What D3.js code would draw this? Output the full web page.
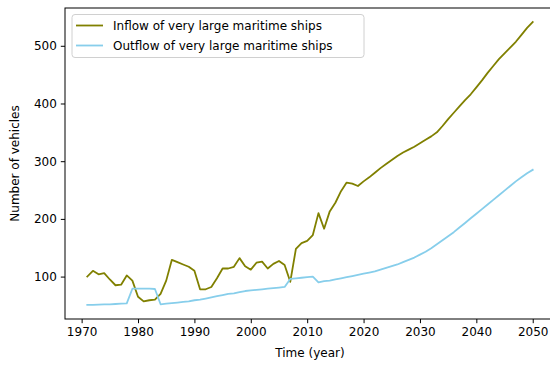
<!DOCTYPE html>
<html>
<head>
<meta charset="utf-8">
<script src="https://cdn.jsdelivr.net/npm/d3@7"></script>
<style>
  html, body { margin: 0; padding: 0; background: #fff; }
  svg { display: block; font-family: "DejaVu Sans", sans-serif; }
</style>
</head>
<body>
<div id="chart"></div>
<script>
const years = d3.range(1971, 2051);
const inflow = [
  100, 110, 104, 106, 95, 85, 86, 102, 93, 65,
  57, 59, 60, 70, 93, 129, 125, 121, 117, 110,
  78, 78, 82, 97, 114, 114, 117, 132, 118, 112,
  124, 126, 114, 122, 127, 120, 91, 148, 158, 162,
  172, 210, 183, 213, 228, 248, 263, 261, 257, 265,
  272, 280, 288, 295, 302, 309, 315, 320, 325, 331,
  337, 343, 350, 361, 373, 384, 395, 406, 416, 428,
  440, 453, 465, 477, 487, 497, 507, 519, 531, 541
];
const outflow = [
  51, 51, 51.5, 52, 52, 52.5, 53, 53.5, 79, 79,
  79, 79, 78.5, 52, 53, 54, 55, 56, 57, 59,
  60, 62, 64, 66, 68, 70, 71, 73, 75, 76,
  77, 78, 79, 80, 81, 82, 96, 97, 98, 99,
  100, 90, 92, 93, 95, 97, 99, 101, 103, 105,
  107, 109, 112, 115, 118, 121, 125, 129, 133, 138,
  143, 149, 156, 163, 170, 177, 185, 193, 201, 209,
  217, 225, 233, 241, 249, 257, 265, 272, 279, 285
];
const xTicks = [1970, 1980, 1990, 2000, 2010, 2020, 2030, 2040, 2050];
const yTicks = [100, 200, 300, 400, 500];
const seriesNames = ["Inflow of very large maritime ships", "Outflow of very large maritime ships"];
const seriesColors = ["#808000", "#87CEEB"];
const xLabel = "Time (year)";
const yLabel = "Number of vehicles";

(function () {
const W = 550, H = 365;
const mLeft = 65, mRight = 555, mTop = 8, mBottom = 319;

const svg = d3.select("#chart").append("svg").attr("width", W).attr("height", H);

const xMin = d3.min(years), xMax = d3.max(years);
const xm = (xMax - xMin) * 0.05;
const x = d3.scaleLinear().domain([xMin - xm, xMax + xm]).range([mLeft, mRight]);
const allV = inflow.concat(outflow);
const yMin = d3.min(allV), yMax = d3.max(allV);
const ym = (yMax - yMin) * 0.05;
const y = d3.scaleLinear().domain([yMin - ym, yMax + ym]).range([mBottom, mTop]);

svg.append("clipPath").attr("id", "clip")
  .append("rect").attr("x", mLeft).attr("y", mTop).attr("width", mRight - mLeft).attr("height", mBottom - mTop);

const line = d3.line().x((d, i) => x(years[i])).y(d => y(d));
const g = svg.append("g").attr("clip-path", "url(#clip)");
[inflow, outflow].forEach((s, k) => {
  g.append("path").datum(s).attr("d", line)
    .attr("fill", "none").attr("stroke", seriesColors[k])
    .attr("stroke-width", 1.8).attr("stroke-linejoin", "round").attr("stroke-linecap", "square");
});

const xAxis = d3.axisBottom(x).tickValues(xTicks).tickFormat(d3.format("d")).tickSizeOuter(0).tickSize(4.2).tickPadding(4);
const yAxis = d3.axisLeft(y).tickValues(yTicks).tickFormat(d3.format("d")).tickSizeOuter(0).tickSize(4.2).tickPadding(4);
const gx = svg.append("g").attr("transform", `translate(0,${mBottom})`).call(xAxis);
const gy = svg.append("g").attr("transform", `translate(${mLeft},0)`).call(yAxis);
[gx, gy].forEach(a => {
  a.select(".domain").remove();
  a.selectAll("text").attr("font-size", 12).attr("fill", "#000").attr("font-family", "DejaVu Sans");
  a.selectAll("line").attr("stroke", "#000").attr("stroke-width", 1);
});

svg.append("rect").attr("x", mLeft).attr("y", mTop).attr("width", mRight - mLeft).attr("height", mBottom - mTop)
  .attr("fill", "none").attr("stroke", "#000").attr("stroke-width", 1);

svg.append("text").attr("x", (mLeft + mRight) / 2).attr("y", 357)
  .attr("text-anchor", "middle").attr("font-size", 12).attr("fill", "#000").text(xLabel);
svg.append("text").attr("transform", `translate(19,${(mTop + mBottom) / 2}) rotate(-90)`)
  .attr("text-anchor", "middle").attr("font-size", 12).attr("fill", "#000").text(yLabel);

const lg = svg.append("g");
lg.append("rect").attr("x", 72).attr("y", 14.5).attr("width", 292).attr("height", 43)
  .attr("rx", 3).attr("fill", "#fff").attr("fill-opacity", 0.8).attr("stroke", "#d0d0d0").attr("stroke-width", 1);
seriesNames.forEach((n, k) => {
  const cy = 25.5 + k * 20;
  lg.append("line").attr("x1", 76).attr("x2", 103).attr("y1", cy).attr("y2", cy)
    .attr("stroke", seriesColors[k]).attr("stroke-width", 1.8);
  lg.append("text").attr("x", 113).attr("y", cy).attr("dy", "0.36em")
    .attr("font-size", 12).attr("fill", "#000").text(n);
});
})();
</script>
</body>
</html>
